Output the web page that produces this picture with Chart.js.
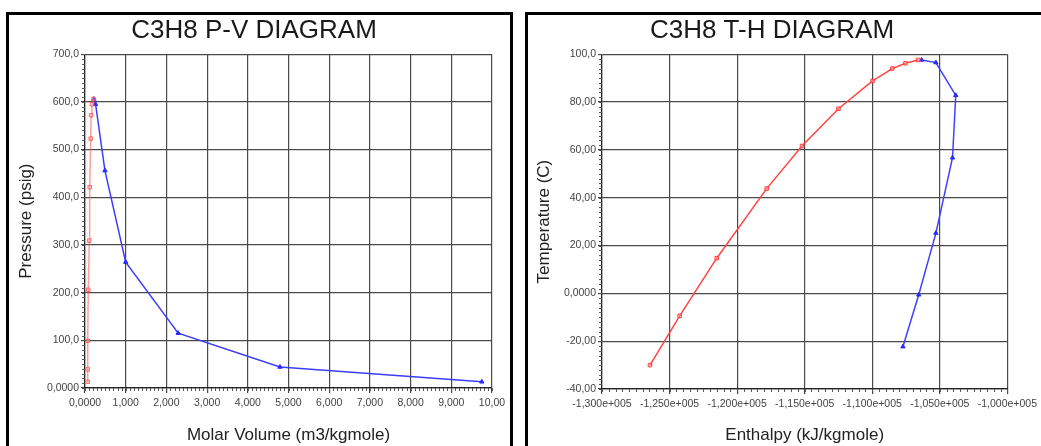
<!DOCTYPE html>
<html>
<head>
<meta charset="utf-8">
<script src="https://cdn.jsdelivr.net/npm/chart.js"></script>
<style>
  body { margin: 0; width: 1041px; height: 446px; overflow: hidden; background: #fff; position: relative; }
  .wrap { position: absolute; top: 0; height: 446px; }
  .frame { position: absolute; border: 3px solid #000; box-sizing: border-box; pointer-events: none; }
</style>
</head>
<body>
<div class="wrap" style="left:0;width:520px"><canvas id="pv"></canvas></div>
<div class="wrap" style="left:520px;width:521px"><canvas id="th"></canvas></div>
<div class="frame" style="left:6px;top:12px;width:507px;height:460px"></div>
<div class="frame" style="left:525px;top:12px;width:540px;height:460px"></div>
<script>
// P-V diagram data
const pvLiquidVolume = [0.066, 0.066, 0.068, 0.08, 0.106, 0.115, 0.14, 0.15, 0.17, 0.21];
const pvLiquidPressure = [13, 39, 99, 206, 309, 421, 523, 572, 595, 606];
const pvVaporVolume = [0.22, 0.26, 0.49, 1.0, 2.29, 4.79, 9.75];
const pvVaporPressure = [606, 595, 456, 264, 115, 44, 13];
const pvXTicks = ["0,0000", "1,000", "2,000", "3,000", "4,000", "5,000", "6,000", "7,000", "8,000", "9,000", "10,00"];
const pvYTicks = ["0,0000", "100,0", "200,0", "300,0", "400,0", "500,0", "600,0", "700,0"];

// T-H diagram data
const thLiquidEnthalpy = [-126450, -124250, -121510, -117810, -115200, -112500, -109980, -108520, -107540, -106600];
const thLiquidTemp = [-30.0, -9.4, 14.7, 43.8, 61.6, 77.2, 88.8, 94.0, 96.2, 97.6];
const thVaporEnthalpy = [-106350, -105290, -103820, -104060, -105290, -106560, -107730];
const thVaporTemp = [97.6, 96.5, 82.8, 56.7, 25.2, -0.6, -22.3];
const thXTicks = ["-1,300e+005", "-1,250e+005", "-1,200e+005", "-1,150e+005", "-1,100e+005", "-1,050e+005", "-1,000e+005"];
const thYTicks = ["-40,00", "-20,00", "0,0000", "20,00", "40,00", "60,00", "80,00", "100,0"];

const FONT = "'Liberation Sans', Arial, sans-serif";

function pts(xs, ys) {
  return xs.map((x, i) => ({ x: x, y: ys[i] }));
}

// small minor tick marks along the axes
const minorTicks = {
  id: 'minorTicks',
  afterDraw(chart, args, opts) {
    const ctx = chart.ctx;
    ctx.save();
    ctx.strokeStyle = '#555';
    ctx.lineWidth = 1;
    ['x', 'y'].forEach(id => {
      const s = chart.scales[id];
      const step = opts[id];
      const n = Math.round((s.max - s.min) / step);
      ctx.beginPath();
      for (let i = 0; i <= n; i++) {
        const p = Math.round(s.getPixelForValue(s.min + i * step)) + 0.5;
        if (id === 'x') {
          ctx.moveTo(p, s.top);
          ctx.lineTo(p, s.top + 3);
        } else {
          ctx.moveTo(s.right, p);
          ctx.lineTo(s.right - 3, p);
        }
      }
      ctx.stroke();
    });
    ctx.restore();
  }
};

function axis(min, max, step, labels, title, isY, size) {
  return {
    type: 'linear',
    min: min,
    max: max,
    afterFit(scale) {
      if (isY) scale.width = size; else scale.height = size;
    },
    ticks: {
      stepSize: step,
      autoSkip: false,
      maxRotation: 0,
      padding: isY ? 2 : 4,
      color: '#444',
      font: { family: FONT, size: 10.5 },
      callback: (v, i) => labels[i]
    },
    grid: { color: '#4a4a4a', lineWidth: 1.2, tickLength: isY ? 4 : 5, tickColor: '#444' },
    border: { display: true, color: '#222', width: 1.2 },
    title: {
      display: true,
      text: title,
      color: '#222',
      font: { family: FONT, size: 17 },
      padding: 0
    }
  };
}

function makeChart(id, titleText, pad, datasets, xAx, yAx, minor) {
  return new Chart(document.getElementById(id), {
    type: 'scatter',
    data: { datasets: datasets },
    options: {
      responsive: true,
      maintainAspectRatio: false,
      animation: false,
      layout: { padding: pad },
      plugins: {
        legend: { display: false },
        tooltip: { enabled: false },
        title: {
          display: true,
          text: titleText,
          color: '#1a1a1a',
          font: { family: FONT, size: 26, weight: 'normal' },
          padding: { top: 15, bottom: 8 }
        },
        minorTicks: minor
      },
      scales: { x: xAx, y: yAx }
    },
    plugins: [minorTicks]
  });
}

makeChart('pv', 'C3H8 P-V DIAGRAM', { left: 16, right: 28, top: 0, bottom: 0 }, [
  {
    data: pts(pvLiquidVolume, pvLiquidPressure),
    showLine: true,
    borderColor: 'rgba(255,90,90,0.6)',
    borderWidth: 1.5,
    pointStyle: 'rect',
    pointRadius: 2.5,
    pointBorderWidth: 1,
    pointBorderColor: 'rgba(255,80,80,0.8)',
    pointBackgroundColor: 'rgba(255,160,160,0.4)'
  },
  {
    data: pts(pvVaporVolume, pvVaporPressure),
    showLine: true,
    borderColor: '#3c3cff',
    borderWidth: 1.5,
    pointStyle: 'triangle',
    pointRadius: 2.5,
    pointBorderWidth: 1,
    pointBorderColor: '#2a2aff',
    pointBackgroundColor: '#2a2aff'
  }
],
  axis(0, 10, 1, pvXTicks, 'Molar Volume (m3/kgmole)', false, 58),
  axis(0, 700, 100, pvYTicks, 'Pressure (psig)', true, 69),
  { x: 0.1, y: 10 });

makeChart('th', 'C3H8 T-H DIAGRAM', { left: 14, right: 31, top: 0, bottom: 0 }, [
  {
    data: pts(thLiquidEnthalpy, thLiquidTemp),
    showLine: true,
    borderColor: '#ff4444',
    borderWidth: 1.5,
    pointStyle: 'rect',
    pointRadius: 2.5,
    pointBorderWidth: 1,
    pointBorderColor: '#ff4040',
    pointBackgroundColor: 'rgba(255,170,170,0.5)'
  },
  {
    data: pts(thVaporEnthalpy, thVaporTemp),
    showLine: true,
    borderColor: '#4040ff',
    borderWidth: 1.5,
    pointStyle: 'triangle',
    pointRadius: 2.5,
    pointBorderWidth: 1,
    pointBorderColor: '#2a2aff',
    pointBackgroundColor: '#2a2aff'
  }
],
  axis(-130000, -100000, 5000, thXTicks, 'Enthalpy (kJ/kgmole)', false, 57),
  axis(-40, 100, 20, thYTicks, 'Temperature (C)', true, 68),
  { x: 500, y: 2 });
</script>
</body>
</html>
